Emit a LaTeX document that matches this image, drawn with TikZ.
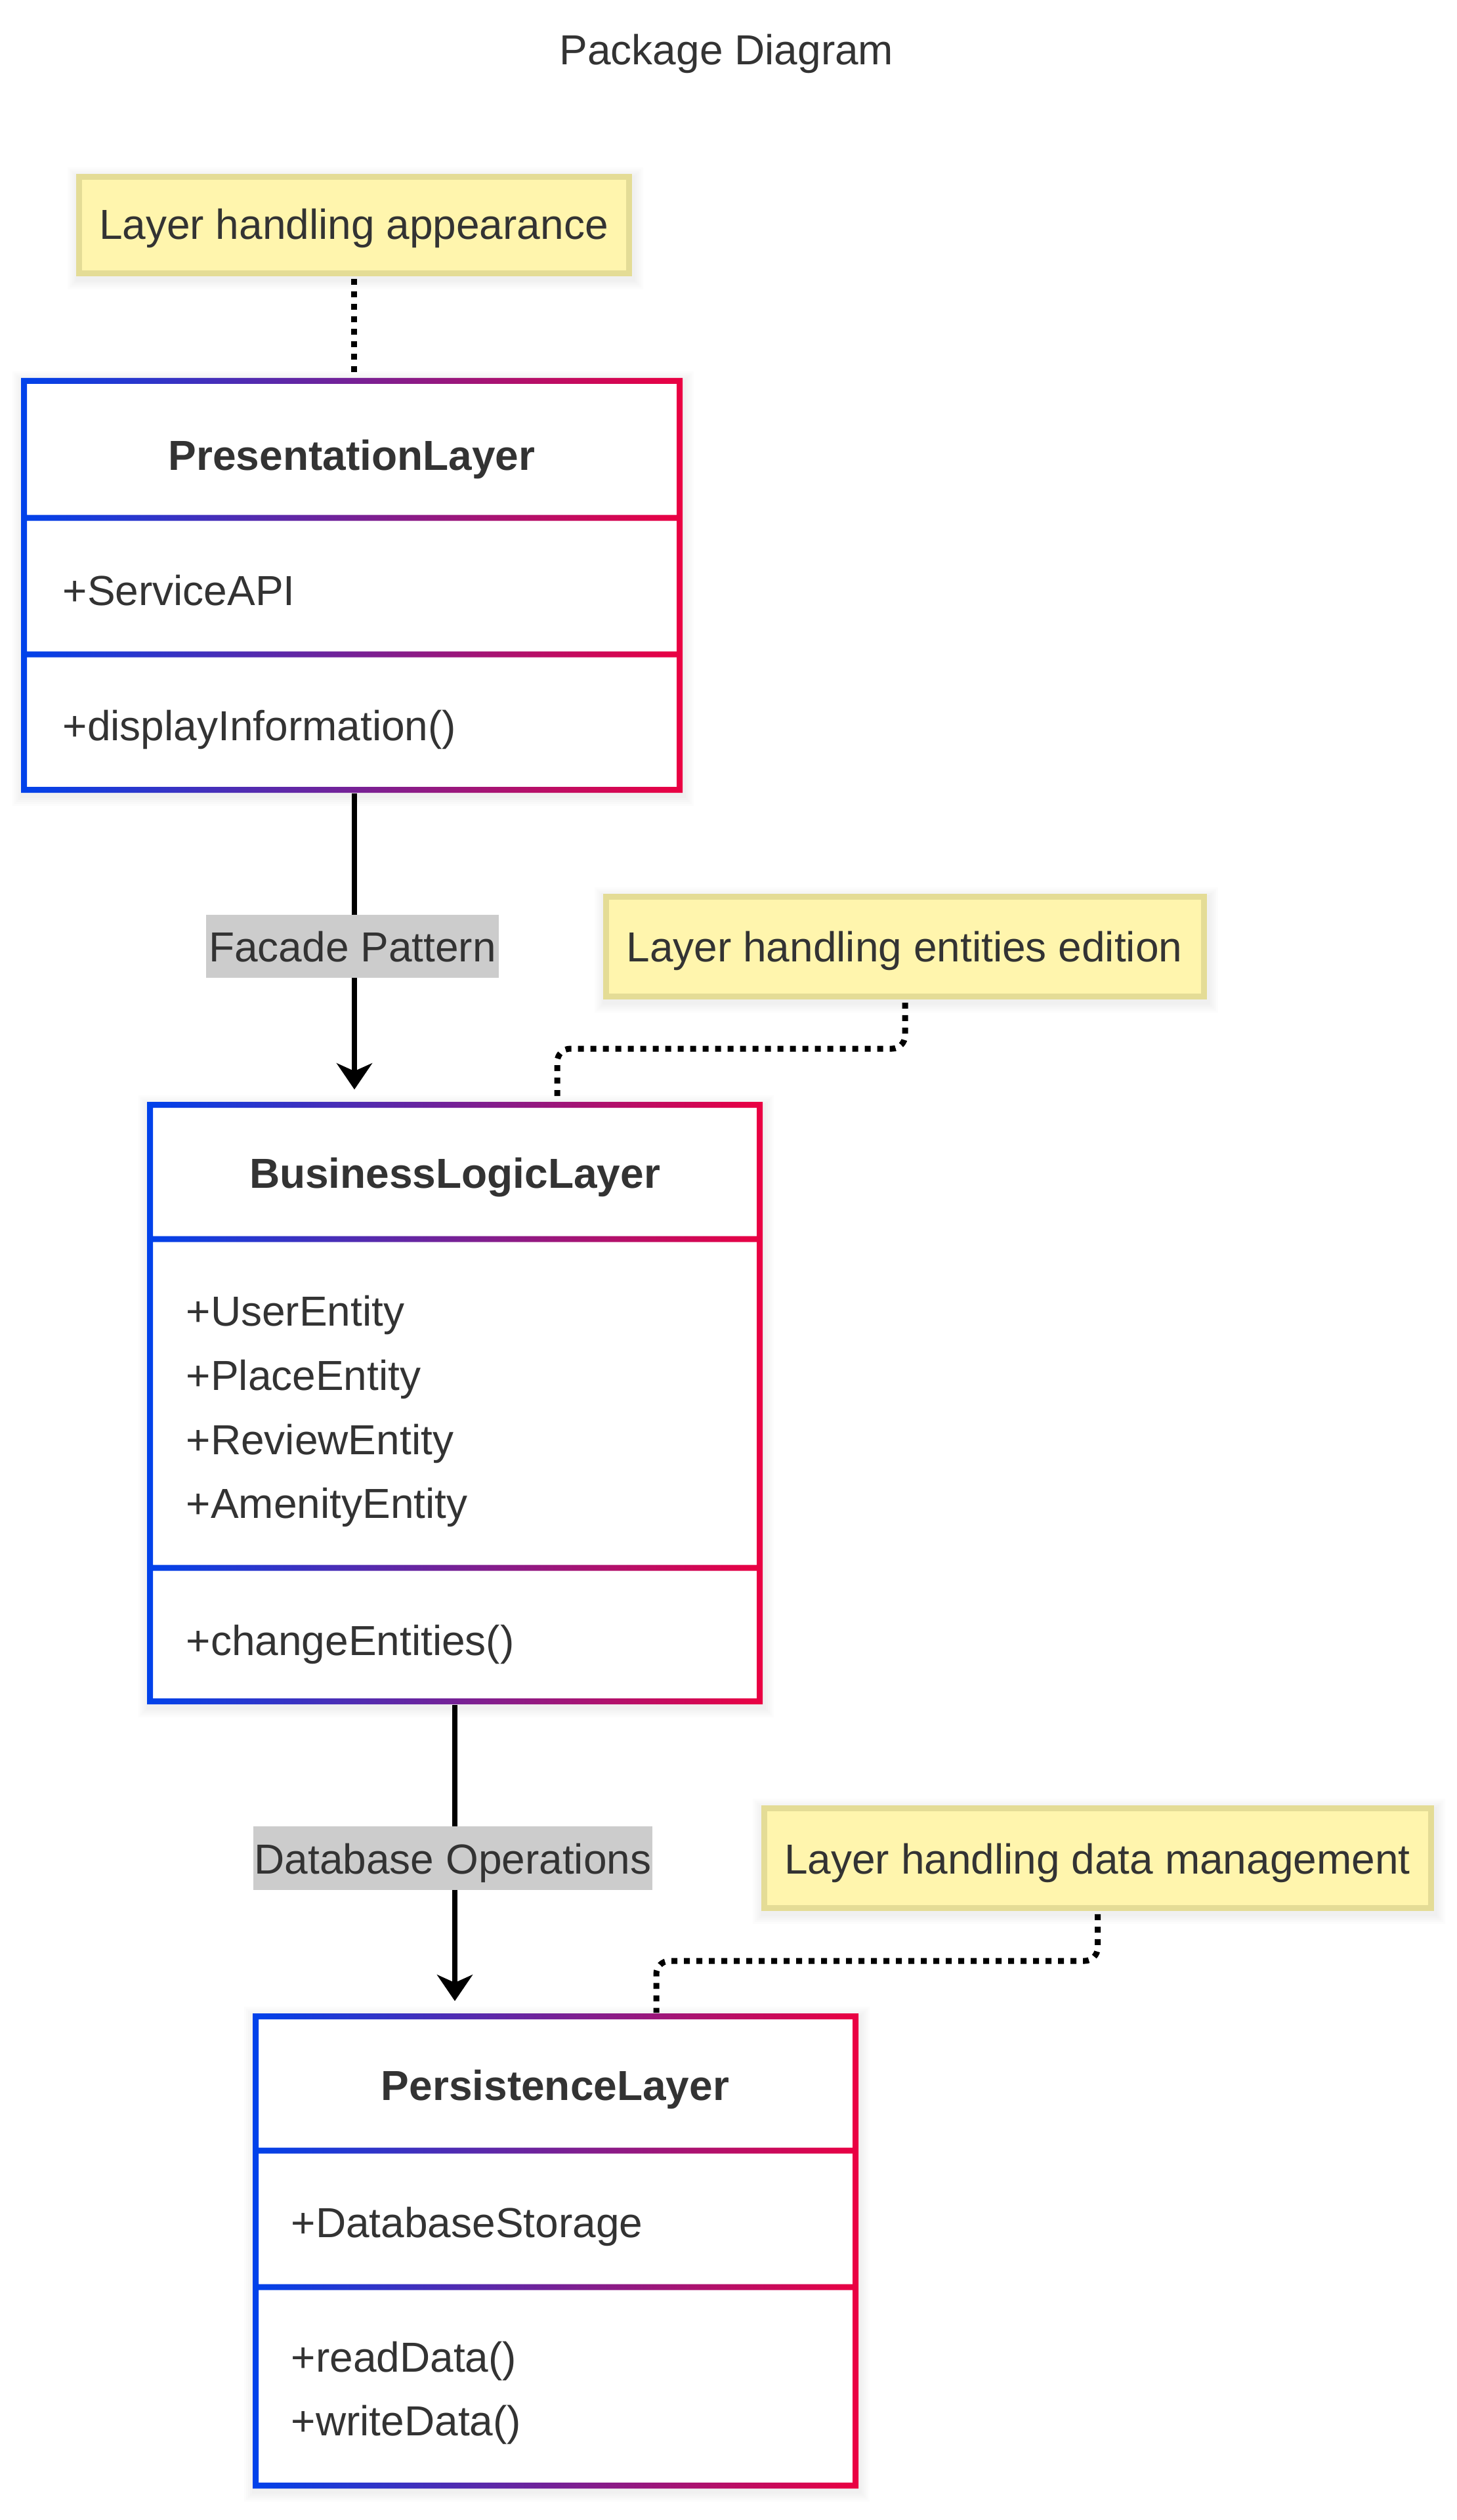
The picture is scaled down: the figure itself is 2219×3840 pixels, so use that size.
\documentclass[tikz,border=0pt]{standalone}
\usepackage{fontspec}
\setmainfont{Liberation Sans}
\usetikzlibrary{arrows.meta,fit}
\definecolor{tc}{HTML}{333333}
\definecolor{gblue}{RGB}{0,66,235}
\definecolor{gred}{RGB}{235,0,66}
\definecolor{notefill}{HTML}{FFF5AD}
\definecolor{noteborder}{RGB}{228,220,150}
\definecolor{labgrey}{HTML}{CCCCCC}
\newcommand\pkgshadow[4]{%
  \foreach \k in {1,...,5}{%
    \fill[black,opacity=0.012] ({#1-\k*3+2},{#2-\k*3+5}) rectangle ({#3+\k*3+2},{#4+\k*3+5});}}
\newcommand\pkgborder[6]{%
  \fill[white] (#1,#2) rectangle (#3,#4);
  \shade[left color=gblue,right color=gred]
    (#1,#2) rectangle (#3,{#2+9})
    (#1,{#4-9}) rectangle (#3,#4)
    (#1,#2) rectangle ({#1+9},#4)
    ({#3-9},#2) rectangle (#3,#4)
    (#1,{#5-4.5}) rectangle (#3,{#5+4.5})
    (#1,{#6-4.5}) rectangle (#3,{#6+4.5});}
\tikzset{
  txt/.style={font=\fontsize{16}{19}\selectfont, text=tc, inner sep=0, anchor=base west},
  ctxt/.style={font=\fontsize{16}{19}\selectfont, text=tc, inner sep=0, anchor=base},
  ttl/.style={font=\fontsize{16}{19}\selectfont\bfseries, text=tc, inner sep=0, anchor=base},
  notebox/.style={fill=notefill, draw=noteborder, line width=2.25pt, inner sep=0},
  labelbox/.style={fill=labgrey, inner sep=0},
  region/.style={inner sep=0},
  dep/.style={line width=2pt, -{Stealth[length=10pt,width=13.5pt,inset=3pt]}},
  dotline/.style={line width=2.25pt, dash pattern=on 2.25pt off 2.5pt},
}
\begin{document}
\begin{tikzpicture}[x=0.25pt,y=-0.25pt]
\useasboundingbox[fill=white] (0,0) rectangle (2219,3840);

\node[ctxt] (title) at (1107,99) {Package Diagram};

% shadows
\pkgshadow{32}{576}{1040}{1208}
\pkgshadow{224}{1679}{1162}{2597}
\pkgshadow{385}{3068}{1308}{3792}
\pkgshadow{116}{265}{963}{421}
\pkgshadow{919}{1362}{1839}{1523}
\pkgshadow{1160}{2751}{2185}{2912}

% boxes
\pkgborder{32}{576}{1040}{1208}{789}{997}
\node[region, fit={(32,576)(1040,1208)}] (pl) {};
\node[ttl] (plt) at (536,716) {PresentationLayer};
\node[txt] (pla) at (95,922) {+ServiceAPI};
\node[txt] (plm) at (95,1128) {+displayInformation()};

\pkgborder{224}{1679}{1162}{2597}{1888}{2389}
\node[region, fit={(224,1679)(1162,2597)}] (bl) {};
\node[ttl] (blt) at (693,1810) {BusinessLogicLayer};
\node[txt] (bla1) at (283,2020) {+UserEntity};
\node[txt] (bla2) at (283,2118) {+PlaceEntity};
\node[txt] (bla3) at (283,2216) {+ReviewEntity};
\node[txt] (bla4) at (283,2313) {+AmenityEntity};
\node[txt] (blm) at (283,2522) {+changeEntities()};

\pkgborder{385}{3068}{1308}{3792}{3277}{3485}
\node[region, fit={(385,3068)(1308,3792)}] (ps) {};
\node[ttl] (pst) at (846,3200) {PersistenceLayer};
\node[txt] (psa) at (443,3409) {+DatabaseStorage};
\node[txt] (psm1) at (443,3614) {+readData()};
\node[txt] (psm2) at (443,3711) {+writeData()};

% notes
\node[notebox, fit={(120.5,269.5)(958.5,416.5)}] (n1) {};
\node[ctxt] (n1t) at (539,365) {Layer handling appearance};
\node[notebox, fit={(923.5,1366.5)(1834.5,1518.5)}] (n2) {};
\node[ctxt] (n2t) at (1378,1465) {Layer handling entities edition};
\node[notebox, fit={(1164.5,2755.5)(2180.5,2907.5)}] (n3) {};
\node[ctxt] (n3t) at (1672,2855) {Layer handling data management};

% connectors
\coordinate (c2) at (849,1598);
\coordinate (c3) at (1000,2988);
\draw[dotline] (n1.south) ++(0,4.5) -- (n1.south |- pl.north);
\draw[dotline, rounded corners=5pt] ([yshift=-1.2pt]n2.south) -- (n2.south |- c2) -- (c2) -- (c2 |- bl.north);
\draw[dotline, rounded corners=5pt] ([yshift=-1.2pt]n3.south) -- (n3.south |- c3) -- (c3) -- (c3 |- ps.north);

\draw[dep, shorten >=4.5pt] ([xshift=1pt]pl.south) -- ([xshift=1pt]pl.south |- bl.north);
\draw[dep, shorten >=4.5pt] (bl.south) -- (bl.south |- ps.north);

% labels
\node[labelbox, fit={(314,1394)(760,1490)}] (lab1) {};
\node[ctxt] (lab1t) at (537,1465) {Facade Pattern};
\node[labelbox, fit={(386,2783)(994,2880)}] (lab2) {};
\node[ctxt] (lab2t) at (690,2855) {Database Operations};
\end{tikzpicture}
\end{document}
